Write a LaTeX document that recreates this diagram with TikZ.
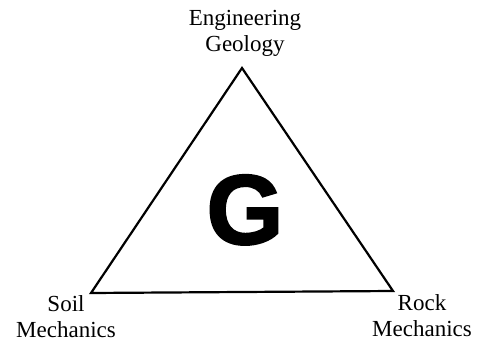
\documentclass[tikz,border=0pt]{standalone}
\usepackage{fontspec}
\setmainfont{Liberation Serif}
\newfontfamily\gfont[UprightFont={* Bold}, FakeBold=2]{Liberation Sans}
\usetikzlibrary{positioning}
\tikzset{
  field/.style={align=center, font=\fontsize{23}{26}\selectfont,
                inner sep=0pt, anchor=base},
  tri/.style={draw, line width=2.2pt, line join=miter},
  bigg/.style={font=\gfont\fontsize{99}{99}\selectfont,
               inner sep=0pt, anchor=base},
}
\begin{document}
\begin{tikzpicture}[x=1pt, y=-1pt]
  \useasboundingbox (0,0) rectangle (477,342);
  % corners of the triangle
  \coordinate (geo) at (242,68);
  \coordinate (soil) at (91,293);
  \coordinate (rock) at (393,291);
  \draw[tri] (geo) -- (soil) -- (rock) -- cycle;
  \node[field] (eg) at (245,52) {Engineering\\Geology};
  \node[field] (sm) at (66,337.5) {Soil\\Mechanics};
  \node[field] (rm) at (422,336.5) {Rock\\Mechanics};
  \node[bigg] (g) at (245,244) {G};
\end{tikzpicture}
\end{document}
